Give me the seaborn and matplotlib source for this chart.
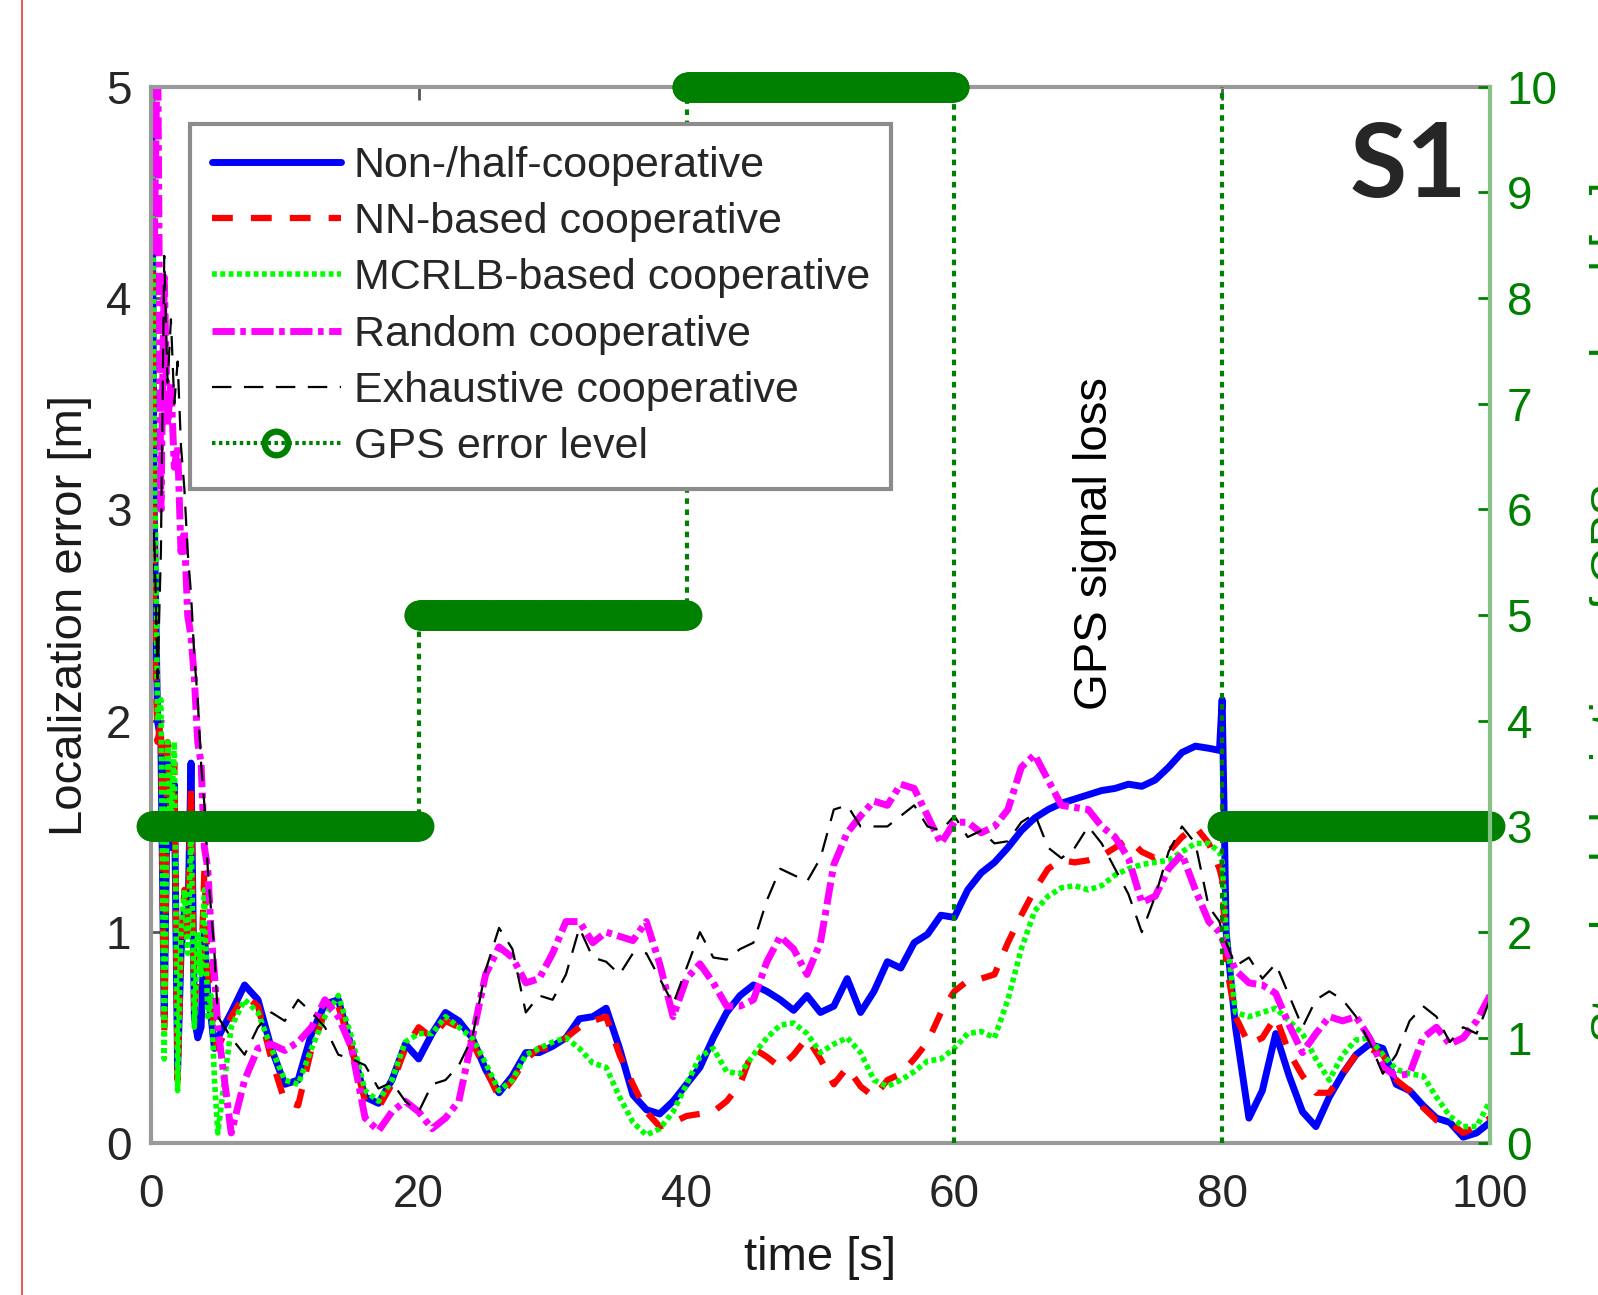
import numpy as np
import matplotlib
matplotlib.use("Agg")
import matplotlib.pyplot as plt
from matplotlib.lines import Line2D
import seaborn as sns

# sampling grid: fine at the start, 1 s afterwards, extra points at the GPS recovery
time_early = np.arange(0, 5, 0.25)
time_main = np.arange(5, 80, 1.0)
time_recover = [79.8, 80.0, 80.3]
time_late = np.arange(81, 101, 1.0)
time_s = np.concatenate([time_early, time_main, time_recover, time_late])

# localization error [m]
non_coop = [5.6, 3.0, 2.0, 1.9, 0.6, 1.8, 1.4, 1.7, 0.35, 0.9, 1.1, 1.0, 1.8, 0.6, 0.5, 0.55, 1.0, 0.7, 0.6, 0.45,
            0.5, 0.62, 0.75, 0.68, 0.45, 0.28, 0.3, 0.52, 0.66, 0.68,
            0.45, 0.22, 0.19, 0.3, 0.47, 0.4, 0.52, 0.62, 0.58, 0.5,
            0.35, 0.24, 0.32, 0.43, 0.43, 0.46, 0.5, 0.59, 0.6, 0.64,
            0.45, 0.23, 0.16, 0.14, 0.2, 0.28, 0.36, 0.5, 0.62, 0.7,
            0.75, 0.72, 0.68, 0.63, 0.7, 0.62, 0.65, 0.78, 0.62, 0.72,
            0.86, 0.83, 0.95, 0.99, 1.08, 1.07, 1.2, 1.28, 1.33, 1.4,
            1.48, 1.54, 1.58, 1.61, 1.63, 1.65, 1.67, 1.68, 1.7, 1.69,
            1.72, 1.78, 1.85, 1.88, 1.87,
            1.86, 2.1, 1.0,
            0.55, 0.12, 0.25, 0.52, 0.32, 0.15, 0.08, 0.22, 0.33, 0.42,
            0.47, 0.45, 0.28, 0.25, 0.18, 0.12, 0.1, 0.03, 0.05, 0.1]

nn_coop = [5.6, 2.5, 1.9, 2.0, 0.5, 1.9, 1.5, 1.8, 0.3, 0.9, 1.2, 0.95, 1.7, 0.6, 0.9, 0.8, 1.3, 0.8, 0.7, 0.5,
           0.45, 0.6, 0.7, 0.65, 0.4, 0.2, 0.18, 0.45, 0.62, 0.65,
           0.45, 0.2, 0.17, 0.28, 0.45, 0.55, 0.5, 0.58, 0.55, 0.48,
           0.35, 0.22, 0.3, 0.4, 0.45, 0.45, 0.5, 0.55, 0.58, 0.6,
           0.42, 0.28, 0.15, 0.08, 0.1, 0.13, 0.14, 0.15, 0.2, 0.28,
           0.45, 0.41, 0.36, 0.42, 0.5, 0.4, 0.28, 0.36, 0.27, 0.22,
           0.3, 0.33, 0.4, 0.48, 0.62, 0.72, 0.77, 0.78, 0.8, 0.95,
           1.08, 1.2, 1.3, 1.34, 1.33, 1.34, 1.36, 1.4, 1.44, 1.38,
           1.35, 1.38, 1.45, 1.5, 1.42,
           1.3, 1.25, 0.85,
           0.6, 0.47, 0.5, 0.6, 0.43, 0.32, 0.24, 0.24, 0.33, 0.42,
           0.45, 0.42, 0.3, 0.25, 0.17, 0.11, 0.1, 0.05, 0.08, 0.12]

mcrlb_coop = [5.6, 3.5, 2.0, 2.1, 0.4, 1.9, 1.5, 1.9, 0.25, 1.0, 1.2, 0.9, 1.5, 0.55, 1.0, 0.8, 1.2, 0.6, 0.7, 0.3,
              0.05, 0.55, 0.68, 0.62, 0.45, 0.3, 0.28, 0.45, 0.6, 0.7,
              0.5, 0.25, 0.2, 0.3, 0.48, 0.52, 0.52, 0.6, 0.55, 0.5,
              0.38, 0.25, 0.3, 0.42, 0.45, 0.48, 0.5, 0.45, 0.38, 0.36,
              0.22, 0.1, 0.04, 0.07, 0.15, 0.28, 0.41, 0.45, 0.34, 0.33,
              0.42, 0.5, 0.56, 0.57, 0.52, 0.43, 0.47, 0.5, 0.43, 0.3,
              0.27, 0.3, 0.34, 0.39, 0.4, 0.45, 0.52, 0.53, 0.5, 0.68,
              0.92, 1.1, 1.17, 1.21, 1.22, 1.2, 1.22, 1.27, 1.3, 1.32,
              1.33, 1.34, 1.38, 1.42, 1.42,
              1.38, 1.33, 1.0,
              0.62, 0.6, 0.62, 0.64, 0.58, 0.52, 0.4, 0.3, 0.42, 0.49,
              0.5, 0.42, 0.35, 0.33, 0.32, 0.22, 0.13, 0.08, 0.08, 0.2]

random_coop = [5.6, 4.2, 5.3, 3.0, 4.1, 3.4, 3.6, 3.2, 3.3, 2.8, 2.9, 2.5, 2.4, 2.2, 1.9, 1.8, 1.4, 1.3, 1.0, 0.8,
               0.55, 0.05, 0.3, 0.45, 0.47, 0.44, 0.48, 0.55, 0.68, 0.6,
               0.45, 0.12, 0.06, 0.15, 0.2, 0.15, 0.07, 0.12, 0.2, 0.5,
               0.8, 0.93, 0.88, 0.76, 0.78, 0.9, 1.05, 1.05, 0.95, 1.0,
               0.98, 0.96, 1.05, 0.85, 0.6, 0.78, 0.85, 0.76, 0.65, 0.65,
               0.68, 0.86, 0.98, 0.92, 0.8, 0.95, 1.32, 1.47, 1.55, 1.62,
               1.6, 1.7, 1.68, 1.55, 1.42, 1.52, 1.52, 1.47, 1.5, 1.58,
               1.78, 1.84, 1.72, 1.6, 1.59, 1.58, 1.5, 1.45, 1.35, 1.14,
               1.17, 1.3, 1.37, 1.2, 1.05,
               1.0, 0.97, 0.92,
               0.82, 0.76, 0.75, 0.71, 0.56, 0.43, 0.52, 0.6, 0.58, 0.6,
               0.5, 0.36, 0.32, 0.33, 0.5, 0.55, 0.47, 0.5, 0.58, 0.7]

exhaustive_coop = [2.5, 2.9, 2.2, 2.8, 4.2, 3.6, 3.9, 3.5, 3.7, 3.3, 3.1, 2.8, 2.6, 2.3, 2.1, 1.8, 1.6, 1.3, 1.1, 0.9,
                   0.6, 0.5, 0.42, 0.55, 0.62, 0.58, 0.68, 0.62, 0.55, 0.42,
                   0.4, 0.37, 0.26, 0.29, 0.2, 0.15, 0.28, 0.3, 0.37, 0.5,
                   0.82, 1.02, 0.92, 0.62, 0.7, 0.68, 0.8, 1.02, 0.88, 0.86,
                   0.8, 0.9, 0.9, 0.78, 0.66, 0.83, 1.0, 0.88, 0.87, 0.92,
                   0.95, 1.15, 1.3, 1.27, 1.24, 1.35, 1.58, 1.6, 1.5, 1.5,
                   1.5, 1.55, 1.6, 1.5, 1.48, 1.55, 1.45, 1.48, 1.42, 1.43,
                   1.52, 1.56, 1.4, 1.35, 1.4, 1.5, 1.42, 1.3, 1.18, 1.0,
                   1.17, 1.38, 1.5, 1.42, 1.12,
                   1.05, 1.0, 0.95,
                   0.84, 0.88, 0.78, 0.85, 0.7, 0.55, 0.68, 0.72, 0.68, 0.6,
                   0.48, 0.33, 0.42, 0.58, 0.65, 0.6, 0.48, 0.55, 0.52, 0.68]

# GPS error level (std, right axis); signal lost between 60 s and 80 s
gps_start = [0, 20, 40, 80]
gps_end = [20, 40, 60, 100]
gps_level = [3, 5, 10, 3]
gps_loss = [60, 80]

x_ticks = [0, 20, 40, 60, 80, 100]
y_ticks = [0, 1, 2, 3, 4, 5]
y2_ticks = list(range(11))

sns.set_theme(style="white")
plt.rcParams["font.family"] = ["Liberation Sans", "DejaVu Sans"]
plt.rcParams["lines.scale_dashes"] = False

gps_green = "#008000"

fig = plt.figure(figsize=(15.98, 12.95), dpi=100)
ax = fig.add_axes([0.0944, 0.117, 0.838, 0.816])
ax2 = ax.twinx()

series = [
    ("Non-/half-cooperative", non_coop, "#0000ff", 5.0, "-"),
    ("NN-based cooperative", nn_coop, "#ff0000", 4.5, (0, (15, 13))),
    ("MCRLB-based cooperative", mcrlb_coop, "#00ff00", 4.0, (0, (3.5, 2.5))),
    ("Random cooperative", random_coop, "#ff00ff", 5.0, (0, (16, 4, 4, 4))),
    ("Exhaustive cooperative", exhaustive_coop, "black", 1.6, (0, (14, 9))),
]

handles = []
for label, vals, color, lw, ls in series:
    sns.lineplot(x=time_s, y=vals, ax=ax, color=color, linewidth=lw,
                 estimator=None, sort=False, legend=False)
    ax.lines[-1].set_linestyle(ls)
    handles.append(Line2D([], [], color=color, lw=lw, ls=ls, label=label))

# GPS level: dense circle markers give the thick band
for s, e, lev in zip(gps_start, gps_end, gps_level):
    tt = np.linspace(s, e, 400)
    ax2.plot(tt, np.full_like(tt, lev), color=gps_green, ls=(0, (4, 4)), lw=3,
             marker="o", ms=17, mew=4.5, mfc="none", clip_on=False)
for i in range(len(gps_start) - 1):
    if gps_end[i] == gps_start[i + 1]:
        ax2.plot([gps_end[i], gps_end[i]], [gps_level[i], gps_level[i + 1]],
                 color=gps_green, ls=(0, (4, 4)), lw=3)
for t in gps_loss:
    ax2.plot([t, t], [0, 10], color=gps_green, ls=(0, (4, 4)), lw=3)
handles.append(Line2D([], [], color=gps_green, ls=(0, (2.5, 2.5)), lw=3, marker="o",
                      ms=17, mew=4.5, mfc="none", label="GPS error level"))

ax.set_xlim(0, 100)
ax.set_ylim(0, 5)
ax2.set_ylim(0, 10)
ax.set_xticks(x_ticks)
ax.set_yticks(y_ticks)
ax2.set_yticks(y2_ticks)

ax.tick_params(axis="both", direction="in", length=9, width=2, color="#555555",
               labelsize=33, labelcolor="#262626", pad=14, top=True, right=False)
ax.tick_params(axis="x", pad=21)
ax2.tick_params(axis="y", direction="in", length=9, width=2, color=gps_green,
                labelcolor=gps_green, labelsize=33, pad=12)

for sp in ["left", "bottom", "top"]:
    ax.spines[sp].set_color("#999999")
    ax.spines[sp].set_linewidth(3)
    ax2.spines[sp].set_visible(False)
ax.spines["right"].set_visible(False)
ax2.spines["right"].set_color("#86c286")
ax2.spines["right"].set_linewidth(3)

ax.set_xlabel("time [s]", fontsize=34, color="#1a1a1a", labelpad=14)
ax.set_ylabel("Localization error [m]", fontsize=34, color="#1a1a1a", labelpad=10)

ax.text(70.5, 2.84, "GPS signal loss", rotation=90, ha="center", va="center",
        fontsize=34, color="black")
ax2.text(0.8955, 0.8957, "S1", transform=ax2.transAxes, fontsize=75,
         fontweight="bold", family="Lato", ha="left", va="baseline")

fig.text(1590 / 1598, 1 - 612 / 1295, "Standard deviation of GPS error level [m]",
         rotation=90, ha="left", va="center", color=gps_green, fontsize=34)

leg = ax2.legend(handles=handles, loc="upper left", bbox_to_anchor=(0.0293, 0.9647),
                 borderaxespad=0, fontsize=31, handlelength=3.0, handletextpad=0.3,
                 labelspacing=0.38, borderpad=0.5, frameon=True, fancybox=False,
                 framealpha=1, edgecolor="#8c8c8c")
leg.get_frame().set_linewidth(3)

# page border line on the left
fig.add_artist(Line2D([0.014, 0.014], [0, 1], transform=fig.transFigure,
                      color="#e06060", lw=1.5))

fig.savefig("out.png", dpi=100)
